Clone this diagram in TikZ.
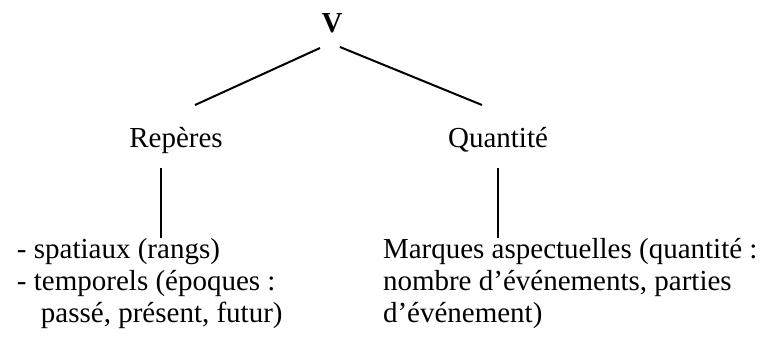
\documentclass[tikz,border=0pt]{standalone}
\usepackage{fontspec}
\setmainfont{Liberation Serif}
\usetikzlibrary{calc}

\begin{document}
\begin{tikzpicture}[x=0.5pt, y=-0.5pt, line width=1pt,
    lbl/.style={inner sep=0pt, font=\fontsize{14.5}{16}\selectfont},
    blk/.style={lbl, align=left, anchor=base west}]
  \useasboundingbox (0,0) rectangle (763,345);
  % racine et branches
  \node[lbl, font=\fontsize{14.5}{16}\selectfont\bfseries] (v) at (332,23) {V};
  \node[lbl, anchor=base] (rep) at (176,147) {Repères};
  \node[lbl, anchor=base] (qte) at (498,147) {Quantité};
  % bouts des traits
  \coordinate (vl) at (320,48);
  \coordinate (vr) at (340,47);
  \coordinate (rl) at (195,105);
  \coordinate (qr) at (482,105);
  \draw (vl) -- (rl);
  \draw (vr) -- (qr);
  % listes du bas (ancre = ligne de base de la derniere ligne)
  \node[blk] (sp) at (16,322) {- spatiaux (rangs)\\
    - temporels (époques :\\
    \hspace*{12pt}passé, présent, futur)};
  \node[blk] (mq) at (382,322) {Marques aspectuelles (quantité :\\
    nombre d’événements, parties\\
    d’événement)};
  \coordinate (rb) at (161,168);
  \coordinate (qb) at (498,168);
  \draw (rb) -- (rb |- 0,238);
  \draw (qb) -- (qb |- 0,238);
\end{tikzpicture}
\end{document}
